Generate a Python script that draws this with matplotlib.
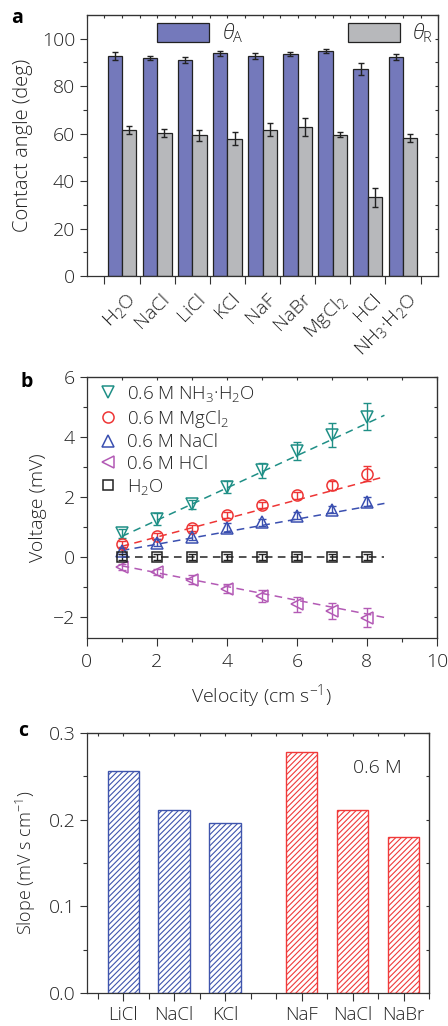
import numpy as np
import matplotlib
matplotlib.use("Agg")
import matplotlib.pyplot as plt

plt.rcParams["font.family"] = ["Open Sans", "DejaVu Sans"]
plt.rcParams["font.weight"] = "light"
plt.rcParams["axes.labelweight"] = "light"
plt.rcParams["mathtext.fontset"] = "custom"
plt.rcParams["mathtext.rm"] = "Open Sans:light"
plt.rcParams["mathtext.it"] = "Open Sans:italic:light"
plt.rcParams["hatch.linewidth"] = 0.8

# ---- panel a: contact angles ----
SOLUTIONS = ["H$_2$O", "NaCl", "LiCl", "KCl", "NaF", "NaBr", "MgCl$_2$", "HCl", "NH$_3$·H$_2$O"]
THETA_A = [92.8, 92.0, 91.0, 93.8, 92.7, 93.7, 94.8, 87.4, 92.3]
THETA_A_ERR = [1.8, 0.8, 1.3, 1.1, 1.3, 0.9, 0.9, 2.5, 1.3]
THETA_R = [61.7, 60.3, 59.3, 57.9, 61.7, 62.9, 59.6, 33.1, 58.0]
THETA_R_ERR = [1.7, 1.8, 2.4, 2.7, 2.9, 3.7, 1.2, 3.9, 1.7]

# ---- panel b: voltage vs velocity ----
VELOCITY = [1, 2, 3, 4, 5, 6, 7, 8]
V_NH3 = [0.78, 1.25, 1.76, 2.32, 2.90, 3.55, 4.08, 4.68]
V_NH3_ERR = [0.15, 0.2, 0.15, 0.2, 0.25, 0.3, 0.4, 0.45]
V_MGCL2 = [0.42, 0.70, 0.98, 1.40, 1.72, 2.06, 2.39, 2.77]
V_MGCL2_ERR = [0.1, 0.1, 0.1, 0.1, 0.1, 0.12, 0.15, 0.25]
V_NACL = [0.20, 0.47, 0.67, 0.98, 1.15, 1.38, 1.58, 1.84]
V_NACL_ERR = [0.1, 0.12, 0.12, 0.15, 0.12, 0.12, 0.12, 0.15]
V_HCL = [-0.33, -0.52, -0.76, -1.06, -1.30, -1.58, -1.81, -2.03]
V_HCL_ERR = [0.1, 0.1, 0.15, 0.15, 0.2, 0.25, 0.28, 0.32]
V_H2O = [0, 0, 0, 0, 0, 0, 0, 0]
V_H2O_ERR = [0.1, 0.1, 0.1, 0.1, 0.1, 0.1, 0.1, 0.1]
# linear fits (slope, intercept) and fit range
FIT_SLOPE = [0.54, 0.31, 0.21, -0.23, 0.0]
FIT_INTERCEPT = [0.14, 0.04, 0.0, -0.07, 0.0]
FIT_RANGE = [1.0, 8.5]

# ---- panel c: slopes ----
SALTS_C = ["LiCl", "NaCl", "KCl", "NaF", "NaCl", "NaBr"]
SLOPES = [0.2555, 0.211, 0.196, 0.2773, 0.211, 0.180]
POS_C = [0, 1, 2, 3.5, 4.5, 5.5]

BAR_BLUE = "#7479bb"
BAR_GREY = "#b7b8bb"
TEAL = "#1f8f86"
RED = "#ee3535"
BLUE = "#3a4fb0"
PURPLE = "#b35ab5"
HATCH_BLUE = "#3f55ad"
HATCH_RED = "#f03a3a"
INK = "#222222"

FS = 14


def frame_ticks(ax, xminor=None, yminor=None):
    # ticks on left/bottom point out; top/right get small inward ticks
    ax.tick_params(which="major", direction="out", length=5, width=0.8, labelsize=FS,
                   top=False, right=False, colors="#333333", labelcolor=INK)
    ax.tick_params(which="minor", direction="out", length=3, width=0.8,
                   top=False, right=False, colors="#333333")
    for s in ax.spines.values():
        s.set_linewidth(0.9)
        s.set_color("#333333")
    top = ax.secondary_xaxis("top")
    top.set_xticks(xminor)
    top.tick_params(direction="in", length=2.5, labeltop=False, colors="#333333")
    right = ax.secondary_yaxis("right")
    right.set_yticks(yminor)
    right.tick_params(direction="in", length=2.5, labelright=False, colors="#333333")


fig = plt.figure(figsize=(4.48, 10.26), dpi=100)

# =================== a ===================
ax = fig.add_axes([0.194, 0.731, 0.784, 0.2544])
x = np.arange(len(SOLUTIONS))
w = 0.41
ekw = dict(ecolor="#222222", elinewidth=1.0, capsize=2.5, capthick=1.0)
ax.bar(x - w / 2, THETA_A, w, yerr=THETA_A_ERR, color=BAR_BLUE, edgecolor="#222222",
       linewidth=0.9, error_kw=ekw, label=r"$\theta_\mathrm{A}$")
ax.bar(x + w / 2, THETA_R, w, yerr=THETA_R_ERR, color=BAR_GREY, edgecolor="#222222",
       linewidth=0.9, error_kw=ekw, label=r"$\theta_\mathrm{R}$")
ax.set_xlim(-1, 9)
ax.set_ylim(0, 110)
ax.set_yticks(np.arange(0, 101, 20))
ax.set_yticks(np.arange(10, 101, 20), minor=True)
ax.set_xticks(x + 0.1, SOLUTIONS, rotation=45, ha="right", rotation_mode="anchor")
ax.set_xticks(np.arange(-0.5, 9, 1), minor=True)
ax.set_ylabel("Contact angle (deg)", fontsize=FS + 0.5, color=INK, labelpad=6)
frame_ticks(ax, xminor=np.arange(-1, 9.01, 0.5), yminor=np.arange(0, 111, 10))
ax.tick_params(axis="x", which="major", length=0, pad=10)
ax.tick_params(axis="x", which="minor", length=6)
ax.legend(loc="upper left", bbox_to_anchor=(0.2, 0.975), ncol=2, frameon=False,
          fontsize=FS + 1, handlelength=2.5, handleheight=1.0, columnspacing=5.0,
          borderpad=0, borderaxespad=0, handletextpad=0.6, labelcolor=INK)
fig.text(0.025, 0.982, "a", fontsize=14, fontweight="bold", va="center")

# =================== b ===================
ax = fig.add_axes([0.1935, 0.3785, 0.7819, 0.2538])
series = [
    (V_NH3, V_NH3_ERR, "v", TEAL, "0.6 M NH$_3$·H$_2$O", 9),
    (V_MGCL2, V_MGCL2_ERR, "o", RED, "0.6 M MgCl$_2$", 8),
    (V_NACL, V_NACL_ERR, "^", BLUE, "0.6 M NaCl", 9),
    (V_HCL, V_HCL_ERR, "<", PURPLE, "0.6 M HCl", 9),
    (V_H2O, V_H2O_ERR, "s", "#222222", "H$_2$O", 7.5),
]
xf = np.array(FIT_RANGE)
for i, (vals, err, mk, col, lab, ms) in enumerate(series):
    ax.plot(xf, FIT_SLOPE[i] * xf + FIT_INTERCEPT[i], color=col, lw=1.1,
            dashes=(5, 3.5), zorder=1)
    ax.errorbar(VELOCITY, vals, yerr=err, fmt="none", ecolor=col, elinewidth=1.0,
                capsize=3, capthick=1.0, zorder=2)
    ax.plot(VELOCITY, vals, ls="none", marker=mk, ms=ms, mfc="none", mec=col,
            mew=1.1, label=lab, zorder=3)
ax.set_xlim(0, 10)
ax.set_ylim(-2.7, 6)
ax.set_xticks(np.arange(0, 11, 2))
ax.set_xticks(np.arange(1, 10, 2), minor=True)
ax.set_yticks(np.arange(-2, 7, 2))
ax.set_yticks(np.arange(-1, 6, 2), minor=True)
ax.set_yticklabels(["\u22122", "0", "2", "4", "6"])
frame_ticks(ax, xminor=np.arange(0, 11, 1), yminor=np.arange(-2, 7, 1))
ax.tick_params(axis="x", which="major", length=6, pad=5)
ax.set_xlabel("Velocity (cm s$^{-1}$)", fontsize=FS, color=INK, labelpad=8)
ax.set_ylabel("Voltage (mV)", fontsize=FS, color=INK, labelpad=4)
ax.legend(loc="upper left", bbox_to_anchor=(0.035, 0.975), frameon=False, fontsize=FS - 0.5,
          handlelength=1.0, handletextpad=0.5, labelspacing=0.2, numpoints=1,
          borderpad=0, borderaxespad=0, labelcolor=INK)
fig.text(0.045, 0.628, "b", fontsize=14, fontweight="bold", va="center")

# =================== c ===================
ax = fig.add_axes([0.195, 0.0319, 0.7626, 0.254])
colors_c = [HATCH_BLUE] * 3 + [HATCH_RED] * 3
for p, s, c in zip(POS_C, SLOPES, colors_c):
    ax.bar(p, s, 0.61, color="white", edgecolor=c, hatch="//////", linewidth=1.0)
ax.set_xlim(-0.7, 6.0)
ax.set_ylim(0, 0.3)
ax.set_yticks([0.0, 0.1, 0.2, 0.3])
ax.set_yticks([0.05, 0.15, 0.25], minor=True)
ax.set_xticks(POS_C, SALTS_C)
ax.set_xticks(np.arange(-0.5, 6.01, 0.5), minor=True)
frame_ticks(ax, xminor=np.arange(-0.5, 6.01, 0.5), yminor=np.arange(0, 0.31, 0.05))
ax.tick_params(axis="x", which="major", length=6, labelsize=FS - 0.5)
ax.tick_params(axis="x", which="minor", length=4)
ax.set_ylabel("Slope (mV s cm$^{-1}$)", fontsize=FS - 1, color=INK, labelpad=8)
ax.text(4.98, 0.259, "0.6 M", fontsize=FS, ha="center", va="center", color=INK)
fig.text(0.04, 0.288, "c", fontsize=14, fontweight="bold", va="center")

fig.savefig("out.png", dpi=100)
